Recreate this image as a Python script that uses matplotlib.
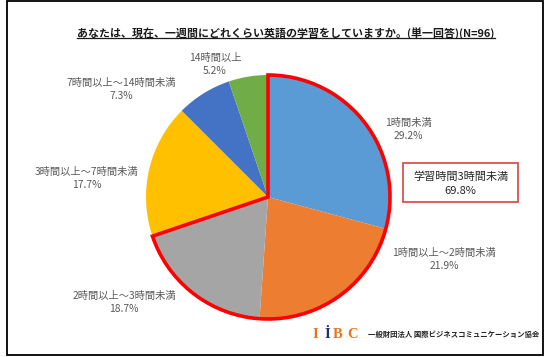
import matplotlib
matplotlib.use("Agg")
import matplotlib.pyplot as plt
from matplotlib.patches import Wedge, Rectangle

plt.rcParams['font.family'] = ['Noto Sans CJK JP', 'DejaVu Sans']

# data
categories = ['1時間未満', '1時間以上～2時間未満', '2時間以上～3時間未満',
              '3時間以上～7時間未満', '7時間以上～14時間未満', '14時間以上']
shares = [29.2, 21.9, 18.7, 17.7, 7.3, 5.2]
colors = ['#5B9BD5', '#ED7D31', '#A5A5A5', '#FFC000', '#4472C4', '#70AD47']
highlight_n = 3          # first three slices = under 3 hours
highlight_label = '学習時間3時間未満'
highlight_value = 69.8
title = 'あなたは、現在、一週間にどれくらい英語の学習をしていますか。(単一回答)(N=96)'

# layout (pixel coords, y from top)
W, H = 545, 357
cx, cy, R = 268, 197, 122
label_pos = [(408, 123), (444, 253), (124, 296), (87, 172), (121, 83), (215, 58)]
line_gap = 13

fig = plt.figure(figsize=(W / 100, H / 100), dpi=100)
ax = fig.add_axes([0, 0, 1, 1])

ax.pie(shares, colors=colors, startangle=90, counterclock=False,
       center=(cx, H - cy), radius=R, wedgeprops=dict(linewidth=0))
ax.set_xlim(0, W)
ax.set_ylim(0, H)
ax.set_aspect('equal')
ax.axis('off')

# red outline around the under-3-hours group
part = sum(shares[:highlight_n]) / sum(shares) * 360
ax.add_patch(Wedge((cx, H - cy), R, 90 - part, 90, fill=False,
                   ec='#FF0000', lw=2.6, joinstyle='miter', zorder=5))

for cat, v, (x, y) in zip(categories, shares, label_pos):
    ax.text(x, H - y, cat, ha='center', va='center', fontsize=7.4, color='#595959')
    ax.text(x, H - y - line_gap, f'{v:.1f}%', ha='center', va='center',
            fontsize=7.4, color='#595959')

# callout box
ax.add_patch(Rectangle((403, H - 202), 115, 39, fill=False, ec='#D9534F', lw=1.3))
ax.text(460.5, H - 177, highlight_label, ha='center', va='center', fontsize=8, color='#262626')
ax.text(460.5, H - 191, f'{highlight_value:.1f}%', ha='center', va='center',
        fontsize=8, color='#262626')

# title with underline
t = ax.text(286, H - 33, title, ha='center', va='center', fontsize=7.9,
            fontweight='bold', color='#1a1a1a')
fig.canvas.draw()
bb = t.get_window_extent().transformed(ax.transData.inverted())
ax.plot([bb.x0, bb.x1], [bb.y0 + 1, bb.y0 + 1], color='#1a1a1a', lw=0.9)

# logo
logo = [('I', '#E8731E', 315.5), ('İ', '#1F2E6E', 327.5), ('B', '#E8731E', 338), ('C', '#E8731E', 353)]
for ch, col, x in logo:
    ax.text(x, H - 338, ch, ha='center', va='baseline', fontsize=10.5,
            fontweight='bold', color=col, family='Liberation Serif')
ax.text(368, H - 334, '一般財団法人 国際ビジネスコミュニケーション協会', ha='left',
        va='center', fontsize=5.3, fontweight='bold', color='#222222')

# outer frame
ax.add_patch(Rectangle((7, H - 355), 536, 354, fill=False, ec='black', lw=1.3))

fig.savefig('out.png', dpi=100)
